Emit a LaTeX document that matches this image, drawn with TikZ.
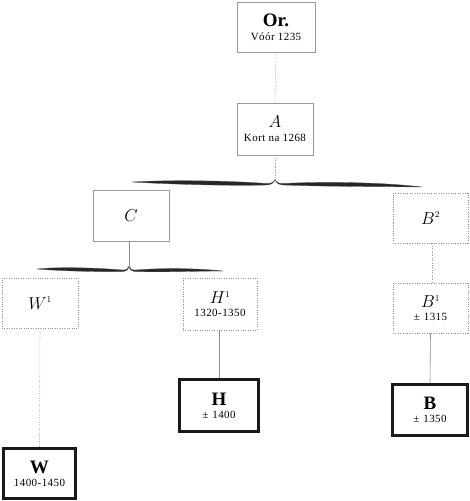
\documentclass[tikz,border=0pt]{standalone}
\usepackage{fontspec}
\setmainfont{Liberation Serif}
\usetikzlibrary{positioning}
\newcommand{\smalltxt}{\fontsize{11}{13}\selectfont\addfontfeatures{LetterSpace=4}}
\newcommand{\bigbold}{\fontsize{19}{20}\selectfont\bfseries}
\newcommand{\bigital}{\fontsize{17.5}{19}\selectfont}
\begin{document}
\begin{tikzpicture}[x=1pt,y=-1pt,
  thinbox/.style={draw=black!40,line width=0.6pt,inner sep=0pt,align=center,text=black},
  dotbox/.style={draw=black!45,line width=0.7pt,dash pattern=on 0.8pt off 1.6pt,inner sep=0pt,align=center,text=black},
  thickbox/.style={draw=black!90,line width=3pt,inner sep=0pt,align=center,text=black},
  dotline/.style={draw=black!40,line width=0.6pt,dash pattern=on 0.8pt off 1.6pt},
  solidline/.style={draw=black!45,line width=0.6pt},
  bracefill/.style={fill=black!85,draw=black!70,line width=0.3pt}]
\useasboundingbox (0,0) rectangle (470,501);

\node[thinbox,minimum width=78pt,minimum height=50pt] (or) at (276,27)
  {{\bigbold Or.}\\[2pt]{\smalltxt Vóór 1235}};
\node[thinbox,minimum width=76pt,minimum height=52pt] (a) at (275,129)
  {{\bigital $A$}\\[2pt]{\smalltxt Kort na 1268}};
\node[thinbox,minimum width=76pt,minimum height=51pt] (c) at (131,215.5)
  {\bigital $C$};
\node[dotbox,minimum width=75pt,minimum height=50pt] (b2) at (430.5,218)
  {\bigital $B^{\scriptscriptstyle 2}$};
\node[dotbox,minimum width=76pt,minimum height=50pt] (w1) at (40,303)
  {\bigital $W^{\scriptscriptstyle 1}$};
\node[dotbox,minimum width=74pt,minimum height=52pt] (h1) at (220,304)
  {{\bigital $H^{\scriptscriptstyle 1}$}\\[1pt]{\smalltxt 1320-1350}};
\node[dotbox,minimum width=75pt,minimum height=50pt] (b1) at (430.5,308)
  {{\bigital $B^{\scriptscriptstyle 1}$}\\[1pt]{\smalltxt ±\hspace{4pt}1315}};
\node[thickbox,minimum width=79pt,minimum height=52pt] (h) at (219,405.5)
  {{\bigbold H}\\[1pt]{\smalltxt ±\hspace{4pt}1400}};
\node[thickbox,minimum width=75pt,minimum height=51pt] (b) at (430,410)
  {{\bigbold B}\\[1pt]{\smalltxt ±\hspace{4pt}1350}};
\node[thickbox,minimum width=72pt,minimum height=50pt] (w) at (39.5,473.5)
  {{\bigbold W}\\[1pt]{\smalltxt 1400-1450}};

% braces
\coordinate (bigtip) at (275,179.5);
\coordinate (smalltip) at (129,266.5);
\path[bracefill] (132,182) .. controls (175,179.5) and (235,181) .. (266,183.5)
  .. controls (271,184) and (274,182) .. (bigtip)
  .. controls (274,183) and (271,185) .. (266,185)
  .. controls (235,186) and (175,184.5) .. (132,182) -- cycle;
\path[bracefill] (bigtip) .. controls (276,182) and (279,184) .. (284,183.5)
  .. controls (320,181.5) and (380,182) .. (422,187)
  .. controls (378,186.5) and (320,186.5) .. (284,185)
  .. controls (279,185) and (276,183) .. (bigtip) -- cycle;
\path[bracefill] (37,269) .. controls (60,266.5) and (100,268) .. (122,270)
  .. controls (126,270.3) and (128,269) .. (smalltip)
  .. controls (128,270) and (126,271.5) .. (122,271.5)
  .. controls (100,272) and (60,271) .. (37,269) -- cycle;
\path[bracefill] (smalltip) .. controls (130,269) and (132,270.3) .. (136,270)
  .. controls (160,268) and (195,268) .. (223,271)
  .. controls (195,271) and (160,272.5) .. (136,271.5)
  .. controls (132,271.5) and (130,270) .. (smalltip) -- cycle;

% connectors
\draw[dotline] (or.south) -- (a.north);
\draw[dotline] (a.south) -- (bigtip);
\draw[solidline] ([xshift=-2pt]c.south) -- (smalltip);
\draw[dotline] ([xshift=1.5pt]b2.south) -- ([xshift=1.5pt]b1.north);
\draw[dotline] (w1.south) -- (w.north);
\draw[solidline] ([xshift=-1pt]h1.south) -- (h.north);
\draw[solidline] (b1.south) -- (b.north);
\end{tikzpicture}
\end{document}
